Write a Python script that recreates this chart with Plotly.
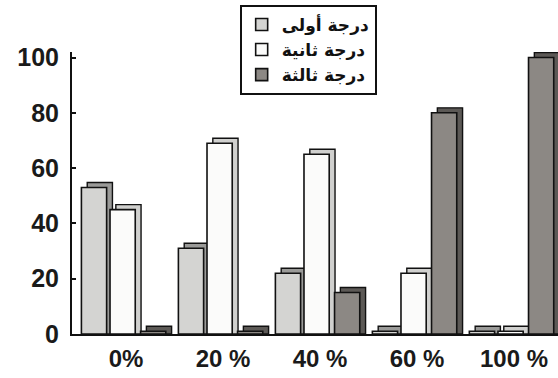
import plotly.graph_objects as go

# Categories and series values
categories = ["0%", "20 %", "40 %", "60 %", "100 %"]
series_names = ["درجة أولى", "درجة ثانية", "درجة ثالثة"]
first_degree = [53, 31, 22, 1, 1]
second_degree = [45, 69, 65, 22, 1]
third_degree = [1, 1, 15, 80, 100]
y_ticks = [0, 20, 40, 60, 80, 100]

series_values = [first_degree, second_degree, third_degree]
front_colors = ["#d4d4d2", "#fbfbfa", "#8c8884"]
side_colors = ["#9a9a98", "#d0d0ce", "#5c5956"]

x_idx = list(range(len(categories)))
bar_w = 0.26
offsets = [-0.46, -0.165, 0.15]
depth_dx = 0.06    # horizontal depth of the pseudo-3D block (x units)
depth_dy = 1.8     # vertical depth of the pseudo-3D block (y units)

fig = go.Figure()

# back faces (side + top) drawn first so the fronts sit over them
for vals, off, col in zip(series_values, offsets, side_colors):
    fig.add_trace(go.Bar(
        x=x_idx, y=[v + depth_dy for v in vals],
        width=bar_w, offset=off + depth_dx,
        marker=dict(color=col, line=dict(color="#111", width=1.4)),
        showlegend=False, hoverinfo="skip",
    ))

# front faces
for name, vals, off, col in zip(series_names, series_values, offsets, front_colors):
    fig.add_trace(go.Bar(
        x=x_idx, y=vals, name=name,
        width=bar_w, offset=off,
        marker=dict(color=col, line=dict(color="#111", width=1.6)),
    ))

fig.update_layout(
    width=558, height=378,
    barmode="overlay",
    margin=dict(l=72, r=0, t=52, b=44),
    paper_bgcolor="white", plot_bgcolor="white",
    font=dict(family="Liberation Sans, Arial", color="#1a1a1a"),
    legend=dict(
        x=0.345, y=1.167, xanchor="left", yanchor="top",
        bgcolor="white", bordercolor="#111", borderwidth=2,
        font=dict(family="DejaVu Sans", size=17, color="#111", weight="bold"),
        itemwidth=30, tracegroupgap=0,
    ),
    xaxis=dict(
        tickmode="array", tickvals=x_idx, ticktext=categories,
        range=[-0.557, 4.454],
        showline=True, linecolor="#111", linewidth=2,
        ticks="", showgrid=False, zeroline=False, ticklabelstandoff=2,
        tickfont=dict(size=24, family="Liberation Sans, Arial", color="#1a1a1a", weight="bold"),
    ),
    yaxis=dict(
        range=[0, 102], tickmode="array", tickvals=y_ticks,
        showline=True, linecolor="#111", linewidth=2,
        ticks="inside", ticklen=4, tickwidth=2, tickcolor="#111",
        showgrid=False, zeroline=False, ticklabelstandoff=6,
        tickfont=dict(size=25, family="Liberation Sans, Arial", color="#1a1a1a", weight="bold"),
    ),
)

fig.write_html("out.html")
